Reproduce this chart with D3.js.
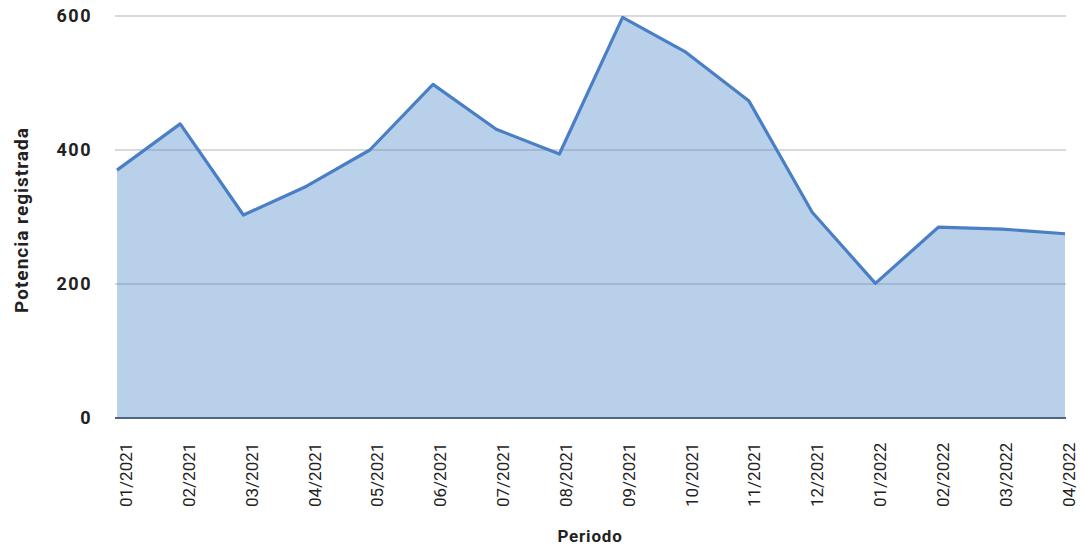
<!DOCTYPE html>
<html>
<head>
<meta charset="utf-8">
<script src="https://cdn.jsdelivr.net/npm/d3@7"></script>
<style>
  html, body { margin: 0; padding: 0; background: #fff; }
  svg { display: block; font-family: Roboto, "Open Sans", sans-serif; }
</style>
</head>
<body>
<svg id="chart" width="1084" height="548"></svg>
<script>
// Registered power per month
const periods = ["01/2021","02/2021","03/2021","04/2021","05/2021","06/2021","07/2021","08/2021",
                 "09/2021","10/2021","11/2021","12/2021","01/2022","02/2022","03/2022","04/2022"];
const potencia = [370, 439, 303, 346, 400, 498, 431, 394, 598, 546, 473, 307, 201, 285, 282, 275];
const yTicks = [0, 200, 400, 600];

(function () {
  const svg = d3.select("#chart");
  const plot = { left: 117, right: 1065, top: 16, bottom: 418 };

  const x = d3.scalePoint().domain(periods).range([plot.left, plot.right]);
  // category labels sit on their own slightly narrower band
  const xLabel = d3.scalePoint().domain(periods).range([125.5, 1068]);
  const y = d3.scaleLinear().domain([0, 600]).range([plot.bottom, plot.top]);

  // horizontal gridlines
  svg.append("g").selectAll("line").data(yTicks.filter(d => d > 0)).join("line")
    .attr("x1", plot.left - 2).attr("x2", plot.right + 1)
    .attr("y1", d => y(d)).attr("y2", d => y(d))
    .attr("stroke", "#d9d9d9").attr("stroke-width", 2);

  // filled area and its outline
  const data = periods.map((p, i) => ({ p, v: potencia[i] }));
  const area = d3.area().x(d => x(d.p)).y0(y(0)).y1(d => y(d.v));
  const line = d3.line().x(d => x(d.p)).y(d => y(d.v));

  svg.append("path").datum(data)
    .attr("d", area)
    .attr("fill", "rgb(80,137,202)").attr("fill-opacity", 0.4);

  svg.append("path").datum(data)
    .attr("d", line)
    .attr("fill", "none")
    .attr("stroke", "#4a7fc6").attr("stroke-width", 3.2)
    .attr("stroke-linejoin", "round");

  // baseline
  svg.append("line")
    .attr("x1", plot.left - 2).attr("x2", plot.right + 1)
    .attr("y1", y(0)).attr("y2", y(0))
    .attr("stroke", "#4d6584").attr("stroke-width", 2);

  // y axis labels
  svg.append("g").selectAll("text").data(yTicks).join("text")
    .attr("x", 92).attr("y", d => y(d))
    .attr("dy", "0.36em")
    .attr("text-anchor", "end")
    .attr("font-size", 18).attr("font-weight", "bold").attr("fill", "#222")
    .attr("letter-spacing", 1.5)
    .text(d => d);

  // x axis labels (rotated)
  svg.append("g").selectAll("text").data(periods).join("text")
    .attr("transform", d => `translate(${xLabel(d) + 6.5},507) rotate(-90)`)
    .attr("text-anchor", "start")
    .attr("font-size", 17).attr("fill", "#222")
    .text(d => d);

  // axis titles
  svg.append("text")
    .attr("transform", "translate(28,220) rotate(-90)")
    .attr("text-anchor", "middle")
    .attr("font-size", 19).attr("font-weight", "bold").attr("fill", "#222")
    .attr("letter-spacing", 1)
    .text("Potencia registrada");

  svg.append("text")
    .attr("x", 590).attr("y", 542)
    .attr("text-anchor", "middle")
    .attr("font-size", 17).attr("font-weight", "bold").attr("fill", "#222")
    .attr("letter-spacing", 0.8)
    .text("Periodo");
})();
</script>
</body>
</html>
